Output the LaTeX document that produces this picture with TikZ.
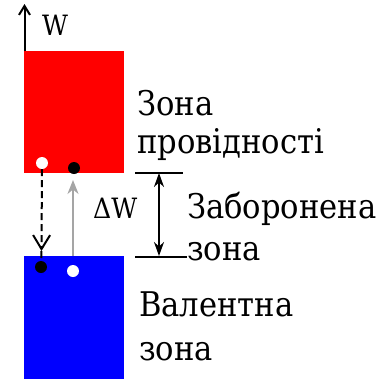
\documentclass[tikz,border=0pt]{standalone}
\usepackage{fontspec}
\setmainfont{DejaVu Serif}
\newfontfamily\tnr[FakeStretch=0.9]{DejaVu Serif}
\usetikzlibrary{arrows.meta}
\definecolor{arrgray}{RGB}{165,165,165}
\begin{document}
\begin{tikzpicture}[x=1pt,y=-1pt,
  band/.style={draw=none,minimum width=100pt,inner sep=0pt,outer sep=0pt},
  elec/.style={circle,fill=black,minimum size=12pt,inner sep=0pt},
  hole/.style={circle,fill=white,minimum size=12pt,inner sep=0pt},
  lbl/.style={anchor=base west,inner sep=0pt,font=\tnr\fontsize{34}{40}\selectfont},
  sml/.style={anchor=base west,inner sep=0pt,font=\tnr\fontsize{28}{30}\selectfont},
  ln/.style={line width=2pt,black}]
\useasboundingbox (0,0) rectangle (377,381);
% bands
\node[band,fill=red,minimum height=122pt] (cb) at (74,112) {};
\node[band,fill=blue,minimum height=123pt] (vb) at (74,317.5) {};
% axis
\coordinate (ax0) at (24.5,51);
\coordinate (ax1) at (24.5,4);
\draw[ln,-{Straight Barb[length=9pt,width=11pt]}] (ax0) -- (ax1);
\node[sml] (w) at (42,35) {W};
% electrons and holes
\node[hole] (h1) at (42,163) {};
\node[elec] (e1) at (74,168) {};
\node[elec] (e2) at (41,267) {};
\node[hole] (h2) at (73,271) {};
% recombination (dashed)
\coordinate (dm) at (41.5,251);
\draw[ln,dash pattern=on 7pt off 4pt,-{Straight Barb[length=14pt,width=17pt]}] (h1) -- (dm);
\draw[ln,dash pattern=on 7pt off 4pt] (dm) -- (e2);
% excitation (gray)
\coordinate (g0) at (73,256);
\coordinate (g1) at (73,180);
\draw[line width=2pt,arrgray,-{Stealth[length=14pt,width=11pt]}] (g0) -- (g1);
\node[sml] (dw) at (93,218) {ΔW};
% gap levels
\coordinate (l1a) at (135,172.5);
\coordinate (l1b) at (183,172.5);
\coordinate (l2a) at (135,256.5);
\coordinate (l2b) at (187,256.5);
\draw[ln] (l1a) -- (l1b);
\draw[ln] (l2a) -- (l2b);
\coordinate (gt) at (159,173);
\coordinate (gb) at (159,256);
\draw[ln,{Stealth[length=14pt,width=10pt]}-{Stealth[length=14pt,width=10pt]}] (gt) -- (gb);
% labels
\node[lbl] (t1) at (137,115) {Зона};
\node[lbl] (t2) at (137,153) {провідності};
\node[lbl] (t3) at (187,218) {Заборонена};
\node[lbl] (t4) at (187,260) {зона};
\node[lbl] (t5) at (139,316) {Валентна};
\node[lbl] (t6) at (139,360) {зона};
\end{tikzpicture}
\end{document}
